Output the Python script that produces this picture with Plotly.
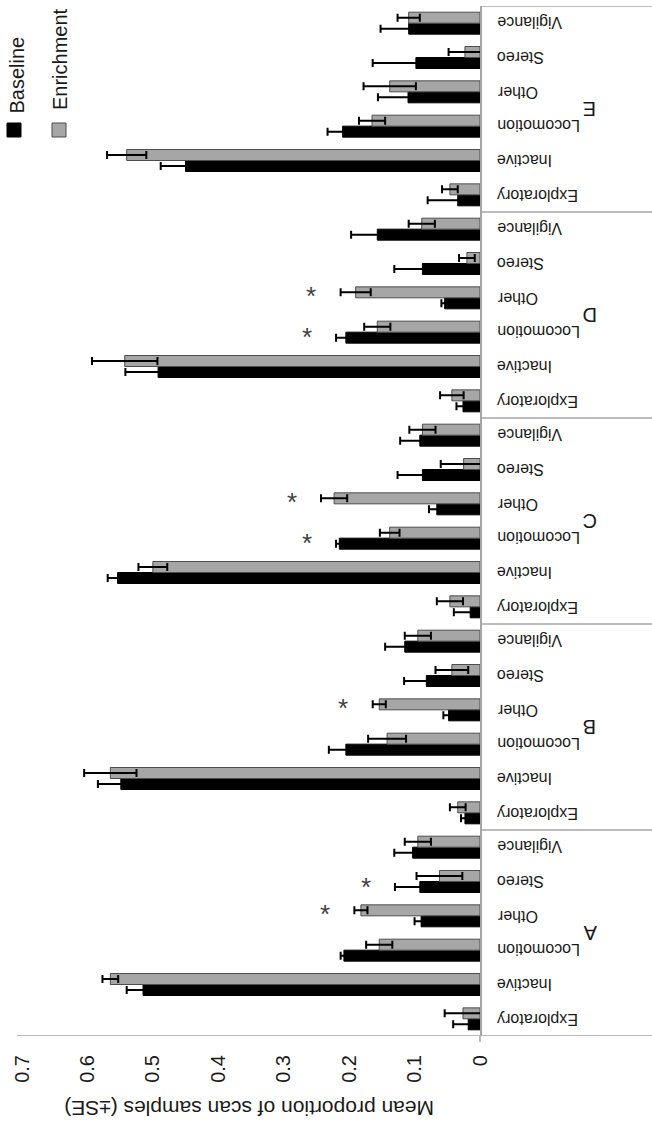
import plotly.graph_objects as go

W, H = 652, 1128

groups = ["A", "B", "C", "D", "E"]
behaviours = ["Exploratory", "Inactive", "Locomotion", "Other", "Stereo", "Vigilance"]

# values per group (A..E), each in behaviour order
baseline_mean = [
    0.018, 0.515, 0.208, 0.090, 0.092, 0.103,   # A
    0.023, 0.549, 0.205, 0.048, 0.082, 0.115,   # B
    0.015, 0.554, 0.215, 0.066, 0.088, 0.092,   # C
    0.026, 0.492, 0.205, 0.054, 0.088, 0.157,   # D
    0.034, 0.450, 0.210, 0.110, 0.098, 0.109,   # E
]
baseline_se = [
    0.023, 0.025, 0.005, 0.010, 0.038, 0.028,
    0.006, 0.035, 0.026, 0.008, 0.034, 0.030,
    0.025, 0.015, 0.005, 0.012, 0.038, 0.030,
    0.010, 0.050, 0.015, 0.005, 0.043, 0.040,
    0.046, 0.038, 0.023, 0.046, 0.066, 0.043,
]
enrichment_mean = [
    0.026, 0.565, 0.154, 0.182, 0.062, 0.095,
    0.034, 0.565, 0.142, 0.154, 0.043, 0.095,
    0.046, 0.500, 0.138, 0.223, 0.025, 0.088,
    0.043, 0.543, 0.157, 0.190, 0.020, 0.089,
    0.046, 0.540, 0.165, 0.138, 0.023, 0.109,
]
enrichment_se = [
    0.028, 0.012, 0.020, 0.010, 0.035, 0.020,
    0.012, 0.040, 0.029, 0.010, 0.025, 0.020,
    0.020, 0.022, 0.015, 0.020, 0.035, 0.020,
    0.018, 0.050, 0.020, 0.023, 0.012, 0.020,
    0.012, 0.030, 0.020, 0.040, 0.025, 0.017,
]
significant = [("A", "Other"), ("A", "Stereo"), ("B", "Other"),
               ("C", "Locomotion"), ("C", "Other"),
               ("D", "Locomotion"), ("D", "Other")]

value_ticks = [0, 0.1, 0.2, 0.3, 0.4, 0.5, 0.6, 0.7]
value_tick_text = ["0", "0.1", "0.2", "0.3", "0.4", "0.5", "0.6", "0.7"]
axis_title = "Mean proportion of scan samples (\u00b1SE)"

keys = [f"{g}|{b}" for g in groups for b in behaviours]
labels = [b for g in groups for b in behaviours]

FONT = "Liberation Sans, Arial, sans-serif"
TXT = "#1a1a1a"
AXC = "#a6a6a6"

# pixel layout (page coordinates, body margin removed)
x0_px, x1_px = 22, 480          # value 0.7 -> x0, value 0 -> x1
y_top_px, y_bot_px = 6, 1036    # category area top / bottom

def px(x):
    return x / W

def py(y):
    return 1 - y / H

fig = go.Figure()
fig.add_trace(go.Bar(
    name="Baseline", y=keys, x=baseline_mean, orientation="h",
    marker=dict(color="#000000", line=dict(color="#000000", width=1)),
    error_x=dict(type="data", array=baseline_se, color="#000000", thickness=2, width=4),
))
fig.add_trace(go.Bar(
    name="Enrichment", y=keys, x=enrichment_mean, orientation="h",
    marker=dict(color="#a6a6a6", line=dict(color="#4d4d4d", width=1)),
    error_x=dict(type="data", array=enrichment_se, color="#000000", thickness=2, width=4),
))

fig.update_layout(
    width=W, height=H, margin=dict(l=0, r=0, t=0, b=0, autoexpand=False),
    paper_bgcolor="white", plot_bgcolor="white",
    barmode="group", bargap=0.36, bargroupgap=0.0, showlegend=False,
    font=dict(family=FONT, color=TXT),
    xaxis=dict(
        domain=[px(x0_px), px(x1_px)], range=[0.7, 0], anchor="y", automargin=False,
        tickvals=value_ticks, ticktext=value_tick_text, tickangle=-90,
        tickfont=dict(size=20, family=FONT, color=TXT),
        showgrid=False, zeroline=False, showline=False, ticks="",
        ticklabelstandoff=14,
    ),
    yaxis=dict(
        domain=[py(y_bot_px), py(y_top_px)], type="category", automargin=False,
        categoryorder="array", categoryarray=keys, range=[-0.5, len(keys) - 0.5],
        showticklabels=False, side="right", anchor="x",
        showgrid=False, zeroline=False, showline=True, linecolor=AXC, linewidth=1.5,
        ticks="",
    ),
)

shapes = []
# bottom axis line (value axis)
shapes.append(dict(type="line", xref="paper", yref="y", x0=px(17), x1=1,
                   y0=-0.5, y1=-0.5, line=dict(color=AXC, width=1.5)))
# top line and group separators in label area
for k in range(1, len(groups) + 1):
    yv = k * len(behaviours) - 0.5
    shapes.append(dict(type="line", xref="paper", yref="y", x0=px(x1_px), x1=1,
                       y0=yv, y1=yv, line=dict(color=AXC, width=1.5)))
# small tick below axis crossing
shapes.append(dict(type="line", xref="paper", yref="paper", x0=px(x1_px), x1=px(x1_px),
                   y0=py(y_bot_px), y1=py(y_bot_px + 6), line=dict(color=AXC, width=1.5)))
# legend swatches
shapes.append(dict(type="rect", xref="paper", yref="paper", x0=px(7), x1=px(21),
                   y0=py(137), y1=py(123), fillcolor="#000000", line=dict(color="#000000", width=1)))
shapes.append(dict(type="rect", xref="paper", yref="paper", x0=px(52), x1=px(66),
                   y0=py(137), y1=py(123), fillcolor="#a6a6a6", line=dict(color="#4d4d4d", width=1)))
fig.update_layout(shapes=shapes)

ann = []
# category labels (upside down, left-aligned next to the axis)
for k, lab in zip(keys, labels):
    ann.append(dict(text=lab, xref="paper", yref="y", x=px(495), y=k,
                    xanchor="left", yanchor="middle", textangle=180, showarrow=False,
                    font=dict(size=16, family=FONT, color=TXT)))
# legend text
ann.append(dict(text="Baseline", xref="paper", yref="paper", x=px(17), y=py(116),
                xanchor="center", yanchor="bottom", textangle=-90, showarrow=False,
                font=dict(size=20, family=FONT, color=TXT)))
ann.append(dict(text="Enrichment", xref="paper", yref="paper", x=px(60), y=py(112),
                xanchor="center", yanchor="bottom", textangle=-90, showarrow=False,
                font=dict(size=20, family=FONT, color=TXT)))
# group labels
for gi, g in enumerate(groups):
    ann.append(dict(text=g, xref="paper", yref="y", x=px(590),
                    y=gi * len(behaviours) + (len(behaviours) - 1) / 2,
                    xanchor="center", yanchor="middle",
                    textangle=180, showarrow=False,
                    font=dict(size=20, family=FONT, color=TXT)))
# axis title
ann.append(dict(text=axis_title, xref="paper", yref="paper", x=px(249), y=py(1109),
                xanchor="center", yanchor="middle",
                textangle=180, showarrow=False,
                font=dict(size=21, family=FONT, color=TXT)))
# significance stars next to the longer bar
for g, b in significant:
    i = keys.index(f"{g}|{b}")
    be = baseline_mean[i] + baseline_se[i]
    ee = enrichment_mean[i] + enrichment_se[i]
    if ee >= be:
        xv, shift = ee + 0.045, 2
    else:
        xv, shift = be + 0.045, -5
    ann.append(dict(text="*", x=xv, y=keys[i], xref="x", yref="y", yshift=shift,
                    xanchor="center", yanchor="middle",
                    showarrow=False, font=dict(size=26, family=FONT, color="#404040")))
fig.update_layout(annotations=ann)

fig.write_html(
    "out.html",
    config={"displayModeBar": False},
    post_script="document.body.style.margin='0px';document.body.style.padding='0px';",
)
